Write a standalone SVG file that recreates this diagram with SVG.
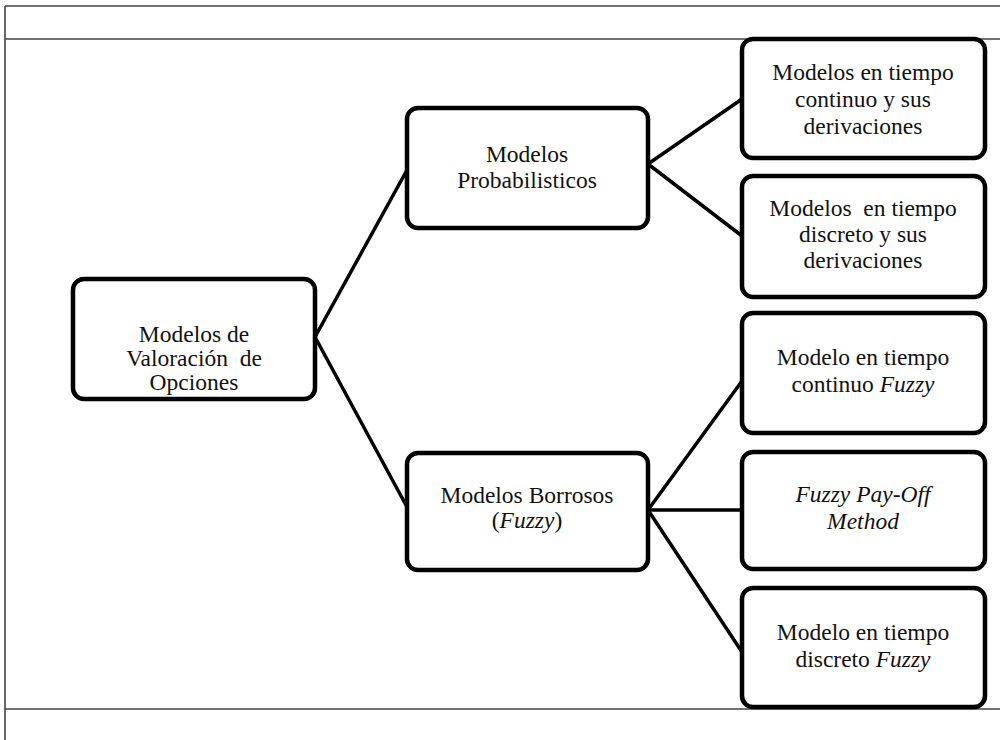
<svg xmlns="http://www.w3.org/2000/svg" width="1000" height="740" viewBox="0 0 1000 740">
<style>
.frame{stroke:#444;stroke-width:1.6;fill:none}
.box{fill:#fff;stroke:#000;stroke-width:4.5}
.conn{stroke:#000;stroke-width:3.5;fill:none;stroke-linecap:round}
text{font-family:'Liberation Serif','Times New Roman',serif;font-size:23.5px;fill:#111;text-anchor:middle;white-space:pre}
.it{font-style:italic}
</style>
<rect width="1000" height="740" fill="#fff"/>
<g id="frame">
<line class="frame" x1="5" y1="6" x2="1000" y2="6"/>
<line class="frame" x1="5" y1="39" x2="1000" y2="39"/>
<line class="frame" x1="5" y1="709" x2="1000" y2="709"/>
<line class="frame" x1="5" y1="6" x2="5" y2="740"/>
</g>
<g id="connectors">
<line class="conn" x1="315" y1="337" x2="407" y2="170"/>
<line class="conn" x1="315" y1="337" x2="407" y2="507"/>
<line class="conn" x1="648" y1="164" x2="742" y2="99"/>
<line class="conn" x1="648" y1="164" x2="742" y2="236"/>
<line class="conn" x1="648" y1="510" x2="742" y2="381"/>
<line class="conn" x1="648" y1="510" x2="742" y2="510"/>
<line class="conn" x1="648" y1="510" x2="742" y2="652"/>
</g>
<g id="root">
<rect class="box" x="73" y="279" width="242" height="120" rx="11"/>
<text x="194" y="342">Modelos de</text>
<text x="194" y="366">Valoración  de</text>
<text x="194" y="390">Opciones</text>
</g>
<g id="prob">
<rect class="box" x="407" y="108" width="241" height="120" rx="11"/>
<text x="527" y="162">Modelos</text>
<text x="527" y="188">Probabilisticos</text>
</g>
<g id="borrosos">
<rect class="box" x="407" y="453" width="241" height="117" rx="11"/>
<text x="527" y="503">Modelos Borrosos</text>
<text x="527" y="528">(<tspan class="it">Fuzzy</tspan>)</text>
</g>
<g id="cont">
<rect class="box" x="742" y="39" width="243" height="119" rx="11"/>
<text x="863" y="80">Modelos en tiempo</text>
<text x="863" y="107">continuo y sus</text>
<text x="863" y="134">derivaciones</text>
</g>
<g id="disc">
<rect class="box" x="742" y="176" width="243" height="121" rx="11"/>
<text x="863" y="216">Modelos  en tiempo</text>
<text x="863" y="242">discreto y sus</text>
<text x="863" y="268">derivaciones</text>
</g>
<g id="contfuzzy">
<rect class="box" x="742" y="313" width="243" height="120" rx="11"/>
<text x="863" y="365">Modelo en tiempo</text>
<text x="863" y="392">continuo <tspan class="it">Fuzzy</tspan></text>
</g>
<g id="payoff">
<rect class="box" x="742" y="452" width="243" height="117" rx="11"/>
<text x="863" y="502" class="it">Fuzzy Pay-Off</text>
<text x="863" y="529" class="it">Method</text>
</g>
<g id="discfuzzy">
<rect class="box" x="742" y="588" width="243" height="119" rx="11"/>
<text x="863" y="640">Modelo en tiempo</text>
<text x="863" y="667">discreto <tspan class="it">Fuzzy</tspan></text>
</g>
</svg>
